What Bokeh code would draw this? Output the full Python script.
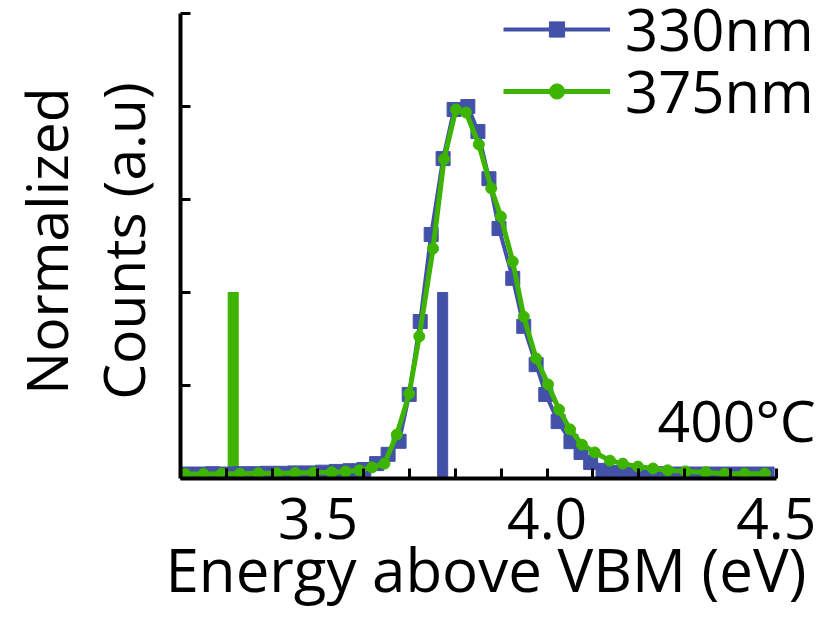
from bokeh.plotting import figure
from bokeh.models import (FixedTicker, Legend, LegendItem, Label, Range1d, Title,
                          PrintfTickFormatter, CustomJSTickFormatter)
from bokeh.embed import file_html
from bokeh.resources import INLINE

# ---- data ----
e330 = [3.21, 3.24, 3.27, 3.30, 3.33, 3.36, 3.39, 3.42, 3.45, 3.48, 3.51, 3.54, 3.57,
        3.60, 3.628, 3.653, 3.677, 3.699, 3.723, 3.747, 3.773, 3.797, 3.827, 3.849,
        3.873, 3.895, 3.925, 3.949, 3.976, 3.997, 4.024, 4.052, 4.074, 4.095, 4.122,
        4.148, 4.18, 4.21, 4.24, 4.27, 4.30, 4.33, 4.36, 4.39, 4.42, 4.45, 4.48]
c330 = [0.012, 0.012, 0.013, 0.012, 0.013, 0.013, 0.014, 0.014, 0.015, 0.015, 0.017, 0.019, 0.021,
        0.024, 0.040, 0.065, 0.100, 0.226, 0.422, 0.656, 0.860, 0.992, 1.000, 0.933,
        0.806, 0.672, 0.538, 0.409, 0.306, 0.226, 0.153, 0.099, 0.070, 0.043, 0.022,
        0.016, 0.014, 0.013, 0.013, 0.012, 0.012, 0.012, 0.012, 0.012, 0.012, 0.012, 0.012]

e375 = [3.21, 3.25, 3.29, 3.33, 3.37, 3.41, 3.45, 3.49, 3.53, 3.56, 3.59, 3.618, 3.645,
        3.672, 3.699, 3.721, 3.751, 3.775, 3.801, 3.823, 3.851, 3.878, 3.899, 3.925,
        3.949, 3.976, 4.002, 4.026, 4.050, 4.076, 4.104, 4.137, 4.165, 4.198, 4.231,
        4.263, 4.302, 4.346, 4.387, 4.431, 4.475]
c375 = [0.012, 0.012, 0.013, 0.013, 0.014, 0.014, 0.015, 0.016, 0.017, 0.019, 0.022, 0.030, 0.040,
        0.118, 0.228, 0.382, 0.618, 0.858, 0.992, 0.984, 0.898, 0.780, 0.704, 0.583,
        0.435, 0.323, 0.253, 0.185, 0.132, 0.091, 0.070, 0.048, 0.040, 0.032, 0.027,
        0.022, 0.019, 0.017, 0.013, 0.013, 0.013]

# excitation energy markers (375nm, 330nm)
exc_energy = [3.315, 3.772]
exc_height = [0.5, 0.5]

series_labels = ["330nm", "375nm"]
x_ticks = [3.5, 4.0, 4.5]
x_minor = [3.3, 3.4, 3.6, 3.7, 3.8, 3.9, 4.1, 4.2, 4.3, 4.4]
y_ticks = [0, 0.25, 0.5, 0.75, 1.0, 1.25]
temp_label = "400°C"
x_title = "Energy above VBM (eV)"
y_title = "Normalized\nCounts (a.u)"

BLUE = "#4352a8"
GREEN = "#3db400"
FONT = "Open Sans"

p = figure(width=838, height=618,
           min_border_left=180, min_border_right=8, min_border_top=3, min_border_bottom=140,
           x_range=Range1d(3.2, 4.6183), y_range=Range1d(0, 1.2769),
           output_backend="svg", toolbar_location=None)
p.outline_line_color = None
p.xgrid.visible = False
p.ygrid.visible = False
p.background_fill_color = "white"
p.border_fill_color = "white"

# bars for excitation energies
p.vbar(x=[exc_energy[0]], top=[exc_height[0]], width=0.022, color=GREEN)
p.vbar(x=[exc_energy[1]], top=[exc_height[1]], width=0.022, color=BLUE)

bl = p.line(e330, c330, color=BLUE, line_width=4)
bs = p.scatter(e330, c330, marker="square", size=14, color=BLUE)
gl = p.line(e375, c375, color=GREEN, line_width=5)
gs = p.scatter(e375, c375, marker="circle", size=11, color=GREEN)

# axes
for ax in (p.xaxis[0], p.yaxis[0]):
    ax.axis_line_width = 4
    ax.axis_line_color = "black"
    ax.major_tick_line_width = 3
    ax.minor_tick_line_width = 3
    ax.major_tick_in = 10
    ax.major_tick_out = 0
    ax.minor_tick_in = 10
    ax.minor_tick_out = 0
    ax.axis_label_text_font = FONT
    ax.axis_label_text_font_style = "normal"
    ax.axis_label_text_font_size = "57px"
    ax.axis_label_text_color = "black"
    ax.major_label_text_font = FONT
    ax.major_label_text_font_size = "57px"
    ax.major_label_text_color = "black"

p.xaxis.bounds = (3.2, 4.5)
p.xaxis.ticker = FixedTicker(ticks=x_ticks, minor_ticks=x_minor)
p.xaxis.formatter = PrintfTickFormatter(format="%.1f")
p.xaxis.major_label_standoff = 19

p.add_layout(Title(text=x_title, align="left", offset=-15, standoff=-28,
                   vertical_align="top", text_font=FONT, text_font_size="60px",
                   text_font_style="normal", text_color="black"), "below")

p.yaxis.bounds = (0, 1.25)
p.yaxis.ticker = FixedTicker(ticks=y_ticks, minor_ticks=[])
p.yaxis.formatter = CustomJSTickFormatter(code="return ''")
p.yaxis.major_label_standoff = 0
p.yaxis.axis_label = y_title
p.yaxis.axis_label_text_line_height = 0.98
p.yaxis.axis_label_standoff = 19

common = dict(orientation="vertical", glyph_width=107, glyph_height=38, label_height=38,
              spacing=0, label_standoff=15, padding=0, margin=0,
              label_text_font=FONT, label_text_font_size="58px", label_text_color="black",
              background_fill_alpha=0, border_line_alpha=0)
leg1 = Legend(items=[LegendItem(label=series_labels[0], renderers=[bl, bs])],
              location=(323, 410), **common)
leg2 = Legend(items=[LegendItem(label=series_labels[1], renderers=[gl, gs])],
              location=(323, 348), **common)
p.add_layout(leg1, "center")
p.add_layout(leg2, "center")

p.add_layout(Label(x=4.586, y=0.158, text=temp_label, text_align="right",
                   text_baseline="alphabetic", text_font=FONT, text_font_size="57px",
                   text_color="black"))

open("out.html", "w").write(file_html(p, INLINE))
